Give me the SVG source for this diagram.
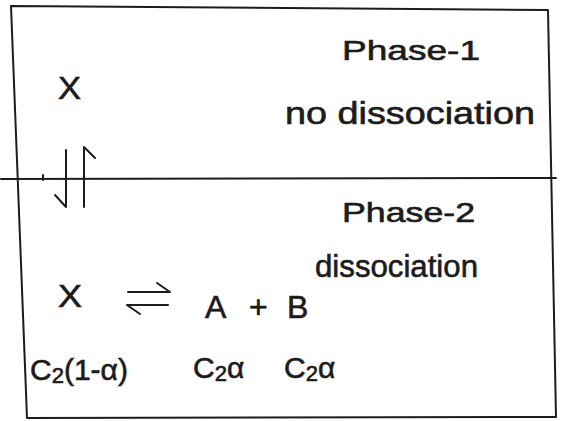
<svg xmlns="http://www.w3.org/2000/svg" width="567" height="421" viewBox="0 0 567 421">
<style>
.ln{fill:none;stroke:#1c1c1c;stroke-width:2;stroke-linecap:round;stroke-linejoin:round}
.t{font-family:"Liberation Sans",Arial,sans-serif;fill:#1c1c1c;stroke:#1c1c1c;stroke-width:0.6}
</style>
<rect width="567" height="421" fill="#ffffff"/>
<g id="frame">
<path class="ln" d="M11 6 L548 10 L556 417 L27 418 Z"/>
<path class="ln" d="M1 179 L556 178"/>
<path class="ln" d="M43 175 L43 180"/>
</g>
<g id="phase1">
<text class="t" x="342" y="60" font-size="28" textLength="138" lengthAdjust="spacingAndGlyphs">Phase-1</text>
<text class="t" x="285" y="124" font-size="31" textLength="250" lengthAdjust="spacingAndGlyphs">no dissociation</text>
<text class="t" x="58" y="99" font-size="31" textLength="23" lengthAdjust="spacingAndGlyphs">X</text>
</g>
<g id="connectors">
<path class="ln" d="M66 150 L66 207 L55 195" stroke-width="2.5"/>
<path class="ln" d="M84 207 L84 147 L95 158" stroke-width="2.5"/>
<path class="ln" d="M128 292 L170 292 L157 283"/>
<path class="ln" d="M168 305 L127 305 L140 314"/>
</g>
<g id="phase2">
<text class="t" x="342" y="222" font-size="28" textLength="133" lengthAdjust="spacingAndGlyphs">Phase-2</text>
<text class="t" x="315" y="277" font-size="32" textLength="163" lengthAdjust="spacingAndGlyphs">dissociation</text>
<text class="t" x="58" y="307" font-size="31" textLength="24" lengthAdjust="spacingAndGlyphs">X</text>
<text class="t" x="205" y="318" font-size="32">A</text>
<text class="t" x="249" y="318" font-size="32">+</text>
<text class="t" x="287" y="318" font-size="32">B</text>
<text class="t" x="30" y="380" font-size="30">C<tspan font-size="22" dy="3">2</tspan><tspan dy="-3">(1-α)</tspan></text>
<text class="t" x="193" y="378" font-size="30">C<tspan font-size="22" dy="3">2</tspan><tspan dy="-3">α</tspan></text>
<text class="t" x="284" y="378" font-size="30">C<tspan font-size="22" dy="3">2</tspan><tspan dy="-3">α</tspan></text>
</g>
</svg>
